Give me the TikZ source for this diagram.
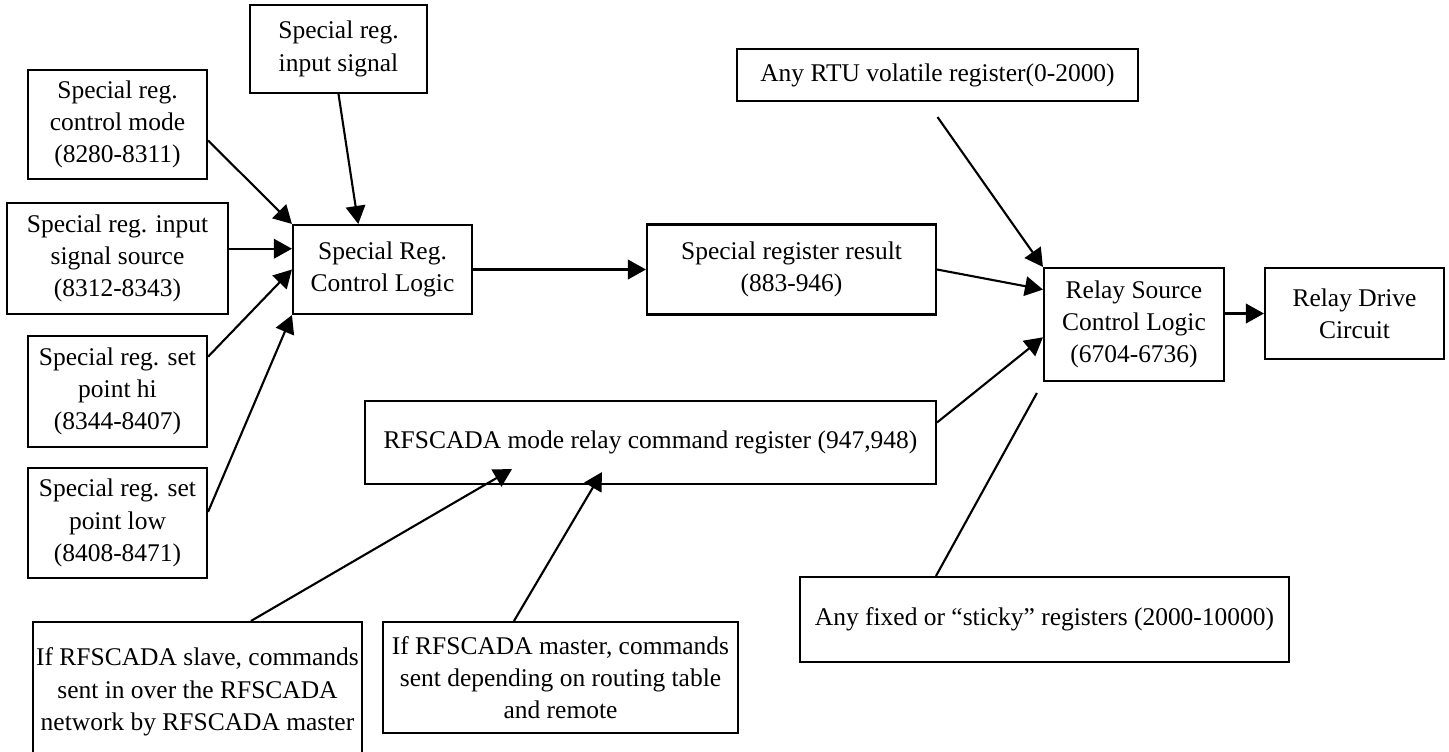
\documentclass[tikz,border=0pt]{standalone}
\usepackage{fontspec}
\setmainfont{Liberation Serif}
\usetikzlibrary{calc,arrows.meta,positioning}
\tikzset{
    block/.style = {draw, rectangle, line width=1.2pt, inner sep=1pt,
        align=center},
    arrow/.style={draw, ->, line width=1.2pt},
    line/.style={draw, -, line width=1.2pt}
}

\begin{document}
\begin{tikzpicture}[node distance=2.68cm, >={Triangle[length=3.6mm,width=3.9mm]}, every node/.style={font=\fontsize{14.5}{18.4}\selectfont}]
        \useasboundingbox (0,0) rectangle (28.98,-15.04);
        \node [block, minimum width=3.58cm, minimum height=2.18cm] (mode) at (2.35,-2.49) {Special reg.\\control mode\\(8280-8311)};
        \node [block, below of=mode, minimum width=4.42cm, minimum height=2.22cm] (src) {Special reg. input\\signal source\\(8312-8343)};
        \node [block, below of=src, node distance=2.66cm, minimum width=3.58cm, minimum height=2.22cm] (sethi) {Special reg. set\\point hi\\(8344-8407)};
        \node [block, below of=sethi, node distance=2.63cm, minimum width=3.58cm, minimum height=2.2cm] (setlow) {Special reg. set\\point low\\(8408-8471)};
        \node [block, minimum width=3.54cm, minimum height=1.76cm] (sig) at (6.77,-0.98) {Special reg.\\input signal};
        \node [block, minimum width=3.58cm, minimum height=1.78cm] (srcl) at (7.65,-5.39) {Special Reg.\\Control Logic};
        \node [block, right of=srcl, node distance=8.18cm, minimum width=5.78cm, minimum height=1.8cm] (srr) {Special register result\\(883-946)};
        \node [block, minimum width=8.02cm, minimum height=1.04cm] (rtu) at (18.75,-1.5) {Any RTU volatile register(0-2000)};
        \node [block, minimum width=3.6cm, minimum height=2.26cm] (rscl) at (22.68,-6.49) {Relay Source\\Control Logic\\(6704-6736)};
        \node [block, minimum width=3.58cm, minimum height=1.82cm] (drv) at (27.09,-6.27) {Relay Drive\\Circuit};
        \node [block, minimum width=11.42cm, minimum height=1.66cm] (cmd) at (13.01,-8.85) {RFSCADA mode relay command register (947,948)};
        \node [block, minimum width=6.58cm, minimum height=2.8cm] (slave) at (3.95,-13.84) {If RFSCADA slave, commands\\sent in over the RFSCADA\\network by RFSCADA master};
        \node [block, minimum width=7.1cm, minimum height=2.22cm] (master) at (11.21,-13.55) {If RFSCADA master, commands\\sent depending on routing table\\and remote};
        \node [block, minimum width=9.78cm, minimum height=1.7cm] (sticky) at (20.89,-12.39) {Any fixed or “sticky” registers (2000-10000)};
        \draw[arrow] (mode.-10) -- (srcl.north west);
        \draw[arrow] (sig.south) -- (srcl.118);
        \draw[arrow] (src.5) -- (src.5 -| srcl.west);
        \draw[arrow] (sethi.21) -- (srcl.west);
        \draw[arrow] (setlow.7) -- (srcl.south west);
        \draw[arrow] (srcl.east) -- (srr.west);
        \draw[arrow] (srr.east) -- (rscl.159);
        \draw[arrow] ($(rtu.south)+(0,-0.3)$) -- (rscl.north west);
        \draw[arrow] (cmd.4) -- (rscl.188);
        \draw[line, shorten >=0.25cm] ($(sticky.north)+(-2.17,0)$) -- (rscl.south west);
        \draw[arrow] (rscl.east |- drv.west) -- (drv.west);
        \draw[arrow] ($(slave.north)+(1.07,0)$) -- ($(cmd.south)+(-2.77,0.32)$);
        \draw[arrow] ($(master.north)+(-0.93,0)$) -- ($(cmd.south)+(-0.97,0.26)$);
\end{tikzpicture}
\end{document}
